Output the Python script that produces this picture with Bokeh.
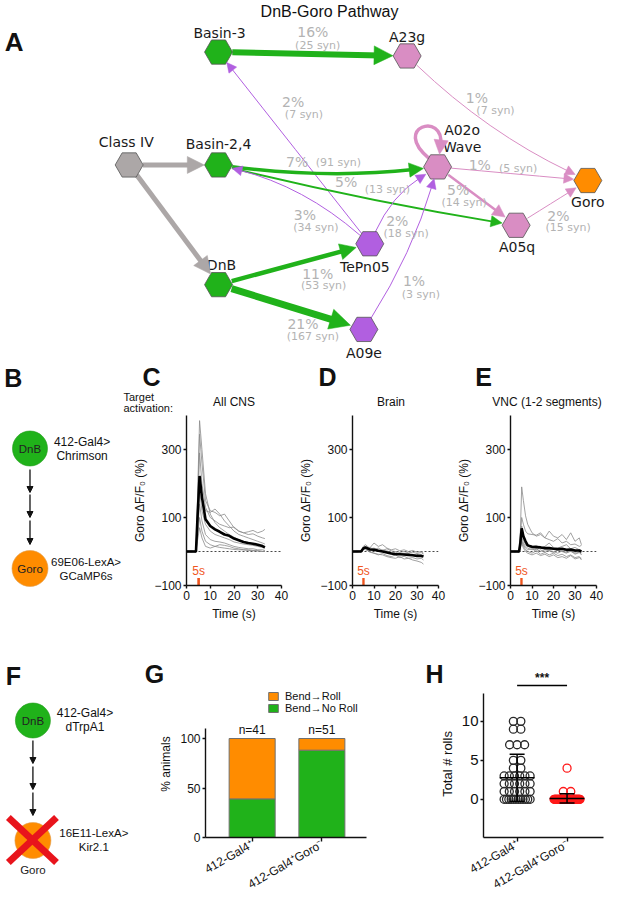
import math
import numpy as np
from bokeh.plotting import figure
from bokeh.layouts import column, row
from bokeh.models import (Range1d, Arrow, NormalHead, FixedTicker, Span,
                          Legend, LegendItem, ColumnDataSource)
from bokeh.embed import file_html
from bokeh.resources import INLINE
from bokeh.core.properties import value

SANS = "Liberation Sans"
VERD = "DejaVu Sans"
GREEN = "#20b21a"
ORANGE = "#ff8c00"
PINK = "#d98dc3"
PURPLE = "#b15fe0"
GREY = "#aca7a7"
EDGE_TXT = "#b3b3b3"
STIM = "#f0561e"
XRED = "#e8141c"
INK = "#111111"

# ============================ DATA ============================
# --- A: DnB-Goro pathway ---
node_names = ["Basin-3", "A23g", "Class IV", "Basin-2,4", "A02o", "Goro", "A05q", "TePn05", "DnB", "A09e"]
node_display = ["Basin-3", "A23g", "Class IV", "Basin-2,4", "A02o\nWave", "Goro", "A05q", "TePn05", "DnB", "A09e"]
node_class = ["green", "pink", "grey", "green", "pink", "orange", "pink", "purple", "green", "purple"]
edge_src = ["Basin-3", "A23g", "TePn05", "Class IV", "Class IV", "Basin-2,4", "Basin-2,4", "A02o",
            "A02o", "A05q", "TePn05", "TePn05", "DnB", "DnB", "A09e"]
edge_dst = ["A23g", "Goro", "Basin-3", "Basin-2,4", "DnB", "A02o", "A05q", "Goro",
            "A05q", "Goro", "Basin-2,4", "A02o", "TePn05", "A09e", "A02o"]
edge_pct = ["16%", "1%", "2%", "", "", "7%", "5%", "1%", "5%", "2%", "3%", "2%", "11%", "21%", "1%"]
edge_syn = ["(25 syn)", "(7 syn)", "(7 syn)", "", "", "(91 syn)", "(13 syn)", "(5 syn)", "(14 syn)",
            "(15 syn)", "(34 syn)", "(18 syn)", "(53 syn)", "(167 syn)", "(3 syn)"]
self_loop_node = "A02o"

# --- C/D/E: Goro responses (dF/F0 %) ---
t_cns = [0, 2, 4, 4.6, 5.5, 6.5, 8, 10, 12, 14, 16, 18, 20, 22, 24, 26, 28, 30, 32, 33]
cns_trials = [
    [0, -2, 2, 150, 385, 300, 170, 110, 85, 70, 60, 50, 42, 35, 30, 25, 22, 18, 15, 12],
    [2, 0, -3, 120, 345, 260, 150, 120, 115, 105, 110, 90, 70, 60, 55, 50, 52, 45, 40, 38],
    [-3, 2, 0, 100, 290, 200, 130, 100, 90, 80, 75, 70, 72, 60, 55, 58, 62, 55, 60, 65],
    [0, 3, -2, 80, 215, 160, 120, 115, 125, 110, 90, 75, 60, 50, 45, 40, 35, 30, 25, 22],
    [1, -1, 2, 60, 180, 120, 80, 60, 50, 45, 40, 35, 28, 25, 22, 20, 18, 15, 12, 10],
    [-2, 1, 0, 50, 140, 90, 50, 35, 30, 28, 25, 20, 15, 12, 10, 8, 8, 5, 5, 3],
    [0, -2, 1, 40, 100, 60, 30, 20, 15, 12, 10, 8, 6, 5, 5, 3, 2, 2, 0, 0],
    [2, 0, -1, 30, 70, 40, 15, 10, 15, 20, 18, 15, 10, 8, 5, 5, 3, 2, 0, 2],
]
cns_mean = [0, 0, 0, 95, 222, 160, 95, 75, 65, 58, 50, 46, 38, 33, 28, 25, 23, 20, 16, 12]

t_brain = [0, 2, 4, 5, 6, 8, 10, 12, 14, 16, 18, 20, 22, 24, 26, 28, 30, 32, 33]
brain_trials = [
    [0, 3, -2, 15, 20, 10, 25, 15, 20, 10, 5, 8, 2, 5, 0, 3, -2, 0, -5],
    [2, -1, 0, 10, 12, 5, 8, 2, 5, 0, -5, -2, -8, -5, -10, -8, -12, -10, -12],
    [-3, 0, 2, 8, 5, 0, -5, -8, -10, -15, -18, -20, -15, -22, -20, -25, -28, -32, -37],
    [1, 2, -1, 12, 15, 8, 10, 5, 0, 2, -3, -8, -5, -10, -6, -12, -8, -15, -14],
    [-1, 1, 3, 5, 10, 12, 6, 10, 3, 8, 2, 0, -3, 0, -4, -2, -6, -3, -8],
    [0, -2, 1, 6, 8, -2, -5, -10, -6, -12, -15, -10, -18, -14, -20, -18, -22, -20, -25],
]
brain_mean = [0, 0, 0, 9, 12, 6, 5, 2, 0, -3, -6, -8, -8, -9, -10, -11, -13, -13, -15]

t_vnc = [0, 2, 4, 4.6, 5.2, 6, 7, 8, 10, 12, 14, 16, 18, 20, 22, 24, 26, 28, 30, 32, 33]
vnc_trials = [
    [0, 2, -3, 60, 190, 150, 105, 80, 55, 45, 50, 40, 60, 45, 40, 50, 35, 55, 30, 40, 20],
    [-2, 0, 3, 40, 100, 80, 60, 52, 50, 48, 55, 40, 35, 30, 38, 25, 30, 20, 22, 15, 18],
    [3, -2, 0, 30, 75, 50, 30, 20, 15, 18, 10, 15, 25, 12, 10, 15, 20, 8, 12, 5, 0],
    [0, 3, -1, 25, 60, 35, 20, 15, 10, 5, 12, 8, 5, 10, 3, 8, 0, 5, -2, 3, -5],
    [-3, 1, 2, 20, 45, 25, 15, 10, 5, 8, 0, 5, 2, -3, 5, 0, -5, 2, -8, -3, -10],
    [2, -1, 0, 15, 35, 15, 5, 0, -5, 2, -8, -3, -10, -5, -12, -8, -15, -10, -18, -15, -25],
    [0, 0, -2, 10, 25, 10, 0, -5, -10, -5, -12, -8, -15, -10, -18, -15, -20, -12, -22, -18, -20],
    [1, -2, 2, 12, 30, 20, 10, 5, 8, 0, 5, -2, 3, 0, -5, 2, -3, 0, -5, -2, -8],
]
vnc_mean = [0, 0, 0, 27, 68, 45, 30, 18, 14, 13, 12, 10, 10, 8, 7, 8, 5, 6, 3, 3, 0]

stim_onset = 4.55
stim_len = 1.1
stim_label = "5s"
trace_titles = ["All CNS", "Brain", "VNC (1-2 segments)"]
trace_xticks = [0, 10, 20, 30, 40]
trace_yticks = [-100, 100, 300]

# --- G: behaviour ---
g_groups = ["412-Gal4\u207a", "412-Gal4\u207aGoro\u207b"]
g_n = [41, 51]
g_noroll = [39.0, 88.2]
g_roll = [61.0, 11.8]
g_series = ["Bend\u2192Roll", "Bend\u2192No Roll"]
g_yticks = [0, 50, 100]

# --- H: total rolls per animal ---
h_ctrl = [10, 10, 9, 9, 7, 7, 7, 5, 5, 4, 4,
          3, 3, 3, 3, 3, 3, 2, 2, 2, 2, 2, 2,
          1, 1, 1, 1, 1, 1,
          0, 0, 0, 0, 0, 0, 0, 0, 0, 0, 0, 0]
h_goro = [4, 1, 1,
          0, 0, 0, 0, 0, 0, 0, 0, 0, 0, 0, 0, 0, 0, 0, 0,
          0, 0, 0, 0, 0, 0, 0, 0, 0, 0, 0, 0, 0, 0, 0, 0,
          0, 0, 0, 0, 0, 0, 0, 0, 0, 0, 0, 0, 0, 0, 0, 0]
h_sig = "***"
h_yticks = [0, 5, 10]

# ============================ LAYOUT ============================
node_x = [222, 414, 131, 222, 445, 598, 525, 376, 222, 370]
node_y = [53, 57, 169, 169, 171, 185, 231, 250, 292, 338]
lab_dx = [1, 0, -3, 0, 25, 0, 1, -5, 3, 0]
lab_dy = [-20, -19, -24, -22, -29, 22, 22, 24, -20, 24]
edge_w = [6, 1, 1, 5, 5, 3.5, 1.8, 1, 2.5, 1, 1, 1, 4.5, 7, 1]
edge_bend = [0, 0.08, 0, 0, 0, 0.06, 0.02, 0, 0, 0, 0.12, -0.15, 0, 0, 0.07]
pct_xy = [(318, 32), (485, 100), (298, 104), None, None, (302, 166), (352, 187), (488, 169),
          (466, 195), (568, 221), (310, 220), (404, 227), (323, 281), (308, 332), (421, 288)]
syn_xy = [(323, 46), (504, 113), (309, 117), None, None, (344, 166), (394, 194), (527, 173),
          (472, 208), (578, 233), (321, 233), (413, 239), (329, 293), (318, 345), (428, 302)]
CLASS_COLOR = {"green": GREEN, "pink": PINK, "grey": GREY, "purple": PURPLE, "orange": ORANGE}

TOTAL_W = 606
A_H = 362
R2_TOP = A_H
STRIP2_H = 53
TR_H = 227
TR_FRAME_H = 170
B_W = 122
C_W, C_L, C_R = 174, 64, 15
D_W, D_L, D_R = 158, 47, 16
E_W, E_L, E_R = 152, 47, 10
R3_TOP = R2_TOP + STRIP2_H + TR_H
STRIP3_H = 46
R3_FIG_H = 212
F_W = 138
G_W, G_L, G_R, G_T, G_B = 287, 67, 59, 2, 63
H_W, H_L, H_R, H_B = 181, 58, 3, 63
G_XR = (0.331, 2.64)
H_XR = (0.327, 2.73)


def blank(p):
    p.grid.visible = False
    p.outline_line_color = None


def style_axes(p, tick_size="12px", label_size="12px"):
    for ax in p.axis:
        ax.axis_line_color = INK
        ax.axis_line_width = 1.4
        ax.major_tick_line_color = INK
        ax.major_tick_line_width = 1.4
        ax.major_tick_out = 3
        ax.major_tick_in = 0
        ax.minor_tick_line_color = None
        ax.major_label_text_font = SANS
        ax.major_label_text_font_size = tick_size
        ax.major_label_text_color = INK
        ax.major_label_standoff = 2
        ax.axis_label_text_font = SANS
        ax.axis_label_text_font_size = label_size
        ax.axis_label_text_font_style = "normal"
        ax.axis_label_text_color = INK
        ax.axis_label_standoff = 4
    p.grid.visible = False
    p.outline_line_color = None


def txt(p, x, y, t, size="12px", bold=False, align="center", color=INK, font=SANS, baseline="middle"):
    p.text(x=x, y=y, text=t, text_font=value(font), text_font_size=size,
           text_font_style="bold" if bold else "normal", text_color=color,
           text_align=align, text_baseline=baseline)


def unit(dx, dy):
    L = math.hypot(dx, dy)
    return dx / L, dy / L


def bare(width, height, xr, yr):
    p = figure(width=width, height=height, x_range=Range1d(*xr), y_range=Range1d(*yr),
               x_axis_location=None, y_axis_location=None, min_border=0, title=None,
               output_backend="svg", toolbar_location=None)
    blank(p)
    return p


# ============================ PANEL A ============================
pA = bare(TOTAL_W, A_H, (0, 617), (372, 0))
idx = {n: i for i, n in enumerate(node_names)}
q = dict(x0=[], y0=[], x1=[], y1=[], cx=[], cy=[], color=[], w=[])
for s, d, w, b in zip(edge_src, edge_dst, edge_w, edge_bend):
    sx, sy = node_x[idx[s]], node_y[idx[s]]
    tx, ty = node_x[idx[d]], node_y[idx[d]]
    dx, dy = tx - sx, ty - sy
    cx = (sx + tx) / 2 - b * dy
    cy = (sy + ty) / 2 + b * dx
    ux, uy = unit(cx - sx, cy - sy)
    R0 = 11.5 + 2.5 * abs(ux)
    x0, y0 = sx + ux * R0, sy + uy * R0
    vx, vy = unit(tx - cx, ty - cy)
    R1 = 12 + 2.5 * abs(vx)
    ex, ey = tx - vx * R1, ty - vy * R1
    hs = 8 + 1.8 * w
    lx, ly = ex - vx * hs * 0.7, ey - vy * hs * 0.7
    col = CLASS_COLOR[node_class[idx[s]]]
    q["x0"].append(x0); q["y0"].append(y0); q["x1"].append(lx); q["y1"].append(ly)
    q["cx"].append(cx); q["cy"].append(cy); q["color"].append(col); q["w"].append(w)
    pA.add_layout(Arrow(end=NormalHead(size=hs, fill_color=col, line_color=col, line_width=0.5),
                        x_start=ex - vx * 0.5, y_start=ey - vy * 0.5, x_end=ex, y_end=ey,
                        line_alpha=0))
pA.quadratic(x0="x0", y0="y0", x1="x1", y1="y1", cx="cx", cy="cy",
             line_color="color", line_width="w", source=ColumnDataSource(q))

ln = idx[self_loop_node]
nx_, ny_ = node_x[ln], node_y[ln]
lp0 = (nx_ - 9, ny_ - 9); lc0 = (nx_ - 47, ny_ - 41); lc1 = (nx_ + 7, ny_ - 57); lp3 = (nx_ + 2, ny_ - 13)
lvx, lvy = unit(lp3[0] - lc1[0], lp3[1] - lc1[1])
lhs = 8 + 1.8 * 3.5
pA.bezier(x0=[lp0[0]], y0=[lp0[1]], x1=[lp3[0] - lvx * lhs * 0.7], y1=[lp3[1] - lvy * lhs * 0.7],
          cx0=[lc0[0]], cy0=[lc0[1]], cx1=[lc1[0]], cy1=[lc1[1]], line_color=PINK, line_width=3.5)
pA.add_layout(Arrow(end=NormalHead(size=lhs, fill_color=PINK, line_color=PINK, line_width=0.5),
                    x_start=lp3[0] - lvx * 0.5, y_start=lp3[1] - lvy * 0.5, x_end=lp3[0], y_end=lp3[1],
                    line_alpha=0))

keep = [i for i, t in enumerate(edge_pct) if t]
txt(pA, [pct_xy[i][0] for i in keep], [pct_xy[i][1] for i in keep], [edge_pct[i] for i in keep],
    size="14px", color=EDGE_TXT, font=VERD)
txt(pA, [syn_xy[i][0] for i in keep], [syn_xy[i][1] for i in keep], [edge_syn[i] for i in keep],
    size="11px", color=EDGE_TXT, font=VERD)
pA.scatter(x=node_x, y=node_y, marker="hex", size=28,
           fill_color=[CLASS_COLOR[c] for c in node_class], line_color="#555555", line_width=0.8)
pA.text(x=[x + dx for x, dx in zip(node_x, lab_dx)], y=[y + dy for y, dy in zip(node_y, lab_dy)],
        text=node_display, text_font=value(VERD), text_font_size="14px", text_color="#1a1a1a",
        text_align="center", text_baseline="middle", text_line_height=1.1)
txt(pA, [335], [11], ["DnB-Goro Pathway"], size="16px")
txt(pA, [14], [43], ["A"], size="26px", bold=True)


# ============================ PANELS B / F ============================
def diagram(width, height, xr, ytop, let, pre_xy, pre_lines, post_xy, post_label_xy, post_lines,
            arrows_x, arrows_y, kill=None):
    p = bare(width, height, xr, (ytop + height, ytop))
    txt(p, [let[0]], [let[1]], [let[2]], size="25px", bold=True)
    for (y0, y1) in arrows_y:
        p.add_layout(Arrow(end=NormalHead(size=6, fill_color=INK, line_color=INK),
                           x_start=arrows_x, y_start=y0, x_end=arrows_x, y_end=y1,
                           line_color=INK, line_width=1.3))
    p.scatter(x=[pre_xy[0]], y=[pre_xy[1]], marker="circle", size=35, fill_color=GREEN,
              line_color="#1c9a16", line_width=0.6)
    p.scatter(x=[post_xy[0]], y=[post_xy[1]], marker="circle", size=36, fill_color=ORANGE,
              line_color="#e0a050", line_width=0.6)
    txt(p, [pre_xy[0]], [pre_xy[1]], ["DnB"], size="11.5px", color="#222222")
    if kill is None:
        txt(p, [post_xy[0]], [post_xy[1]], ["Goro"], size="11.5px", color="#222222")
    else:
        p.segment(x0=kill[0], y0=kill[1], x1=kill[2], y1=kill[3], line_color=XRED, line_width=7)
        txt(p, [post_xy[0]], [post_xy[1] + 29], ["Goro"], size="11.5px", color="#222222")
    txt(p, [pre_xy[2]] * 2, [pre_xy[3], pre_xy[3] + 14], pre_lines, size="12px")
    txt(p, [post_label_xy[0]] * 2, [post_label_xy[1], post_label_xy[1] + 14], post_lines, size="11.5px")
    return p


pB = diagram(B_W, STRIP2_H + TR_H, (0, 124.1), 375, (13, 390, "B"), (30, 461, 83, 454),
             ["412-Gal4>", "Chrimson"], (30, 581), (87, 574), ["69E06-LexA>", "GCaMP6s"], 30,
             [(482, 505), (507, 530), (533, 557)])
pF = diagram(F_W, STRIP3_H + R3_FIG_H, (0, 140.5), 655, (13, 688, "F"), (33, 733, 86, 725),
             ["412-Gal4>", "dTrpA1"], (33, 853), (95, 845), ["16E11-LexA>", "Kir2.1"], 33,
             [(753, 776), (779, 802), (805, 828)],
             kill=([8, 57], [830, 830], [57, 8], [875, 875]))


# ============================ PANELS C / D / E ============================
def trace_panel(t, trials, mean, width, left, right):
    p = figure(width=width, height=TR_H, x_range=Range1d(0, 40), y_range=Range1d(-100, 400),
               title=None, min_border_left=left, min_border_right=right, min_border_top=0,
               min_border_bottom=TR_H - TR_FRAME_H, output_backend="svg", toolbar_location=None)
    p.xaxis.ticker = FixedTicker(ticks=trace_xticks)
    p.yaxis.ticker = FixedTicker(ticks=trace_yticks)
    p.xaxis.axis_label = "Time (s)"
    p.yaxis.axis_label = "Goro \u0394F/F\u2080 (%)"
    style_axes(p)
    p.add_layout(Span(location=0, dimension="width", line_color="#333333", line_width=0.9,
                      line_dash="2 2", level="underlay"))
    p.multi_line(xs=[t] * len(trials), ys=trials, line_color="#8a8a8a", line_width=0.8)
    p.line(t, mean, line_color="black", line_width=2.6)
    p.quad(left=[stim_onset], right=[stim_onset + stim_len], bottom=[-100], top=[-78],
           fill_color=STIM, line_color=None)
    txt(p, [stim_onset + stim_len / 2], [-57], [stim_label], size="12px", color=STIM)
    return p


pC = trace_panel(t_cns, cns_trials, cns_mean, C_W, C_L, C_R)
pD = trace_panel(t_brain, brain_trials, brain_mean, D_W, D_L, D_R)
pE = trace_panel(t_vnc, vnc_trials, vnc_mean, E_W, E_L, E_R)

s2_x0 = B_W
s2_w = C_W + D_W + E_W
strip2 = bare(s2_w, STRIP2_H, (s2_x0, s2_x0 + s2_w), (R2_TOP + STRIP2_H, R2_TOP))
c_f = (s2_x0 + C_L, s2_x0 + C_W - C_R)
d_f = (s2_x0 + C_W + D_L, s2_x0 + C_W + D_W - D_R)
e_f = (s2_x0 + C_W + D_W + E_L, s2_x0 + C_W + D_W + E_W - E_R)
txt(strip2, [c_f[0] - 35, d_f[0] - 16, e_f[0] - 18], [R2_TOP + 14] * 3, ["C", "D", "E"], size="25px", bold=True)
txt(strip2, [sum(c_f) / 2, sum(d_f) / 2, sum(e_f) / 2 - 2], [R2_TOP + 39] * 3, trace_titles, size="12px")
txt(strip2, [s2_x0 + 1, s2_x0 + 1], [R2_TOP + 34, R2_TOP + 45], ["Target", "activation:"],
    size="11px", align="left")

# ============================ PANEL G ============================
G_FRAME_H = R3_FIG_H - G_T - G_B
pG = figure(width=G_W, height=R3_FIG_H, x_range=Range1d(*G_XR), y_range=Range1d(0, G_FRAME_H / 0.99),
            min_border_left=G_L, min_border_right=G_R, min_border_top=G_T, min_border_bottom=G_B,
            title=None, output_backend="svg", toolbar_location=None)
gsrc = ColumnDataSource(dict(x=[1, 2], noroll=g_noroll, roll=g_roll))
rs = pG.vbar_stack(["noroll", "roll"], x="x", width=0.66, fill_color=[GREEN, ORANGE],
                   line_color="#707070", line_width=1, source=gsrc)
leg = Legend(items=[LegendItem(label=g_series[0], renderers=[rs[1]]),
                    LegendItem(label=g_series[1], renderers=[rs[0]])],
             location=(62, 123), label_text_font=SANS, label_text_font_size="11px",
             label_text_color=INK, glyph_width=12, glyph_height=10, label_height=10,
             label_standoff=6, spacing=0, padding=0, margin=0,
             background_fill_alpha=0, border_line_alpha=0)
pG.add_layout(leg)
txt(pG, [1, 2], [109, 109], [f"n={n}" for n in g_n], size="12px")
pG.xaxis.ticker = FixedTicker(ticks=[1, 2])
pG.xaxis.major_label_overrides = {1: g_groups[0], 2: g_groups[1]}
pG.yaxis.ticker = FixedTicker(ticks=g_yticks)
pG.yaxis.axis_label = "% animals"
style_axes(pG)
pG.xaxis.major_label_orientation = 0.52
pG.xaxis.major_tick_out = 4
pG.yaxis.bounds = (0, 110)


# ============================ PANEL H ============================
def swarm(vals, center, maxw=0.26, step=0.075):
    v = np.asarray(vals, dtype=float)
    off = np.zeros(len(v))
    for u in np.unique(v):
        ids = np.where(v == u)[0]
        k = len(ids)
        if k > 1:
            w = min(maxw, step * (k - 1))
            off[ids] = np.linspace(-w, w, k)
    return center + off


H_FRAME_H = R3_FIG_H - H_B
pH = figure(width=H_W, height=R3_FIG_H, x_range=Range1d(*H_XR), y_range=Range1d(-4.9, -4.9 + H_FRAME_H / 7.9),
            min_border_left=H_L, min_border_right=H_R, min_border_top=0, min_border_bottom=H_B,
            title=None, output_backend="svg", toolbar_location=None)
pH.scatter(x=swarm(h_ctrl, 1), y=h_ctrl, marker="circle", size=8, fill_alpha=0,
           line_color="#2a2a2a", line_width=1.3)
pH.scatter(x=swarm(h_goro, 2), y=h_goro, marker="circle", size=8, fill_alpha=0,
           line_color="#ff1a1a", line_width=1.3)
for cx, vals in ((1, h_ctrl), (2, h_goro)):
    m = float(np.mean(vals))
    sd = float(np.std(vals, ddof=1))
    pH.segment(x0=[cx - 0.35, cx, cx - 0.15, cx - 0.15], y0=[m, m - sd, m + sd, m - sd],
               x1=[cx + 0.35, cx, cx + 0.15, cx + 0.15], y1=[m, m + sd, m + sd, m - sd],
               line_color="black", line_width=1.5)
pH.xaxis.ticker = FixedTicker(ticks=[1, 2])
pH.xaxis.major_label_overrides = {1: g_groups[0], 2: g_groups[1]}
pH.yaxis.ticker = FixedTicker(ticks=h_yticks)
pH.yaxis.axis_label = "Total # rolls"
style_axes(pH, tick_size="15px", label_size="13px")
pH.xaxis.major_label_text_font_size = "12px"
pH.xaxis.major_label_orientation = 0.52
pH.xaxis.major_tick_out = 4
pH.yaxis.bounds = (-4.9, 13.6)

# strip above G / H: letters, significance bracket and stars
s3_x0 = F_W
s3_w = G_W + H_W
strip3 = bare(s3_w, STRIP3_H, (s3_x0, s3_x0 + s3_w), (R3_TOP + STRIP3_H, R3_TOP))
g_f = (s3_x0 + G_L, s3_x0 + G_W - G_R)
h_f = (s3_x0 + G_W + H_L, s3_x0 + G_W + H_W - H_R)


def h_px(v):
    return h_f[0] + (v - H_XR[0]) / (H_XR[1] - H_XR[0]) * (h_f[1] - h_f[0])


txt(strip3, [g_f[0] - 51, h_f[0] - 49], [R3_TOP + 31] * 2, ["G", "H"], size="25px", bold=True)
br_y = R3_TOP + STRIP3_H - 3
strip3.segment(x0=[h_px(1)], y0=[br_y], x1=[h_px(2)], y1=[br_y], line_color="black", line_width=1.5)
txt(strip3, [h_px(1.5)], [br_y - 1], [h_sig], size="12px", bold=True, baseline="bottom")

layout = column(pA, row(pB, column(strip2, row(pC, pD, pE))),
                row(pF, column(strip3, row(pG, pH))))
open("out.html", "w").write(file_html(layout, INLINE))
